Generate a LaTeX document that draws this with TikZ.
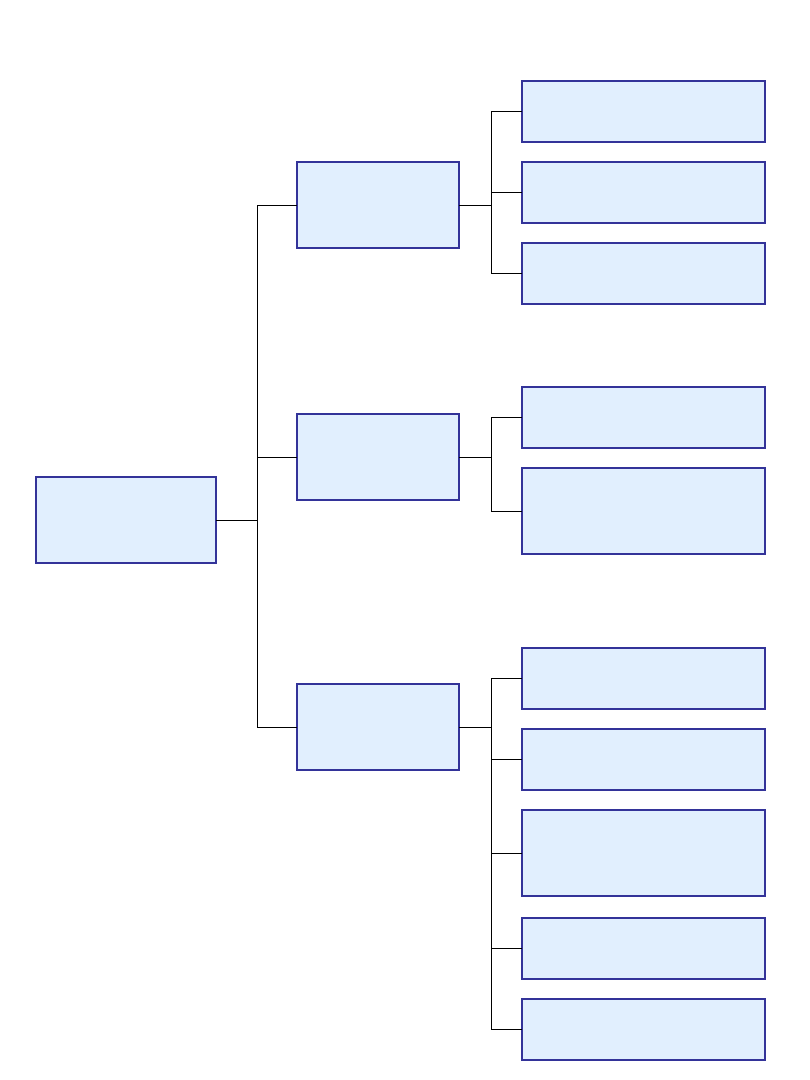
\documentclass[tikz,border=0pt]{standalone}
\begin{document}
\begin{tikzpicture}[x=1pt,y=-1pt,
  box/.style={draw={rgb,255:red,51;green,51;blue,153},fill={rgb,255:red,225;green,239;blue,254},line width=1.6pt,inner sep=0pt,outer sep=0pt,anchor=north west},
  conn/.style={draw=black,line width=1pt}]
\useasboundingbox (0,0) rectangle (810,1080);
\node[box,minimum width=180pt,minimum height=86pt] (root) at (36,477) {};
\node[box,minimum width=162pt,minimum height=86pt] (A) at (297,162) {};
\node[box,minimum width=162pt,minimum height=86pt] (B) at (297,414) {};
\node[box,minimum width=162pt,minimum height=86pt] (C) at (297,684) {};
\node[box,minimum width=243pt,minimum height=61pt] (a1) at (522,81) {};
\node[box,minimum width=243pt,minimum height=61pt] (a2) at (522,162) {};
\node[box,minimum width=243pt,minimum height=61pt] (a3) at (522,243) {};
\node[box,minimum width=243pt,minimum height=61pt] (b1) at (522,387) {};
\node[box,minimum width=243pt,minimum height=86pt] (b2) at (522,468) {};
\node[box,minimum width=243pt,minimum height=61pt] (c1) at (522,648) {};
\node[box,minimum width=243pt,minimum height=61pt] (c2) at (522,729) {};
\node[box,minimum width=243pt,minimum height=86pt] (c3) at (522,810) {};
\node[box,minimum width=243pt,minimum height=61pt] (c4) at (522,918) {};
\node[box,minimum width=243pt,minimum height=61pt] (c5) at (522,999) {};
\coordinate (j0) at (257,520);
\coordinate (j1) at (491,0);
% root level
\draw[conn] (root.east) -- (root.east -| j0);
\draw[conn] (j0 |- A.west) -- (j0 |- C.west);
\foreach \n in {A,B,C} \draw[conn] (j0 |- \n.west) -- (\n.west);
% A
\draw[conn] (A.east) -- (j1 |- A.east);
\draw[conn] (j1 |- a1.west) -- (j1 |- a3.west);
\foreach \n in {a1,a2,a3} \draw[conn] (j1 |- \n.west) -- (\n.west);
% B
\draw[conn] (B.east) -- (j1 |- B.east);
\draw[conn] (j1 |- b1.west) -- (j1 |- b2.west);
\foreach \n in {b1,b2} \draw[conn] (j1 |- \n.west) -- (\n.west);
% C
\draw[conn] (C.east) -- (j1 |- C.east);
\draw[conn] (j1 |- c1.west) -- (j1 |- c5.west);
\foreach \n in {c1,c2,c3,c4,c5} \draw[conn] (j1 |- \n.west) -- (\n.west);
\end{tikzpicture}
\end{document}
